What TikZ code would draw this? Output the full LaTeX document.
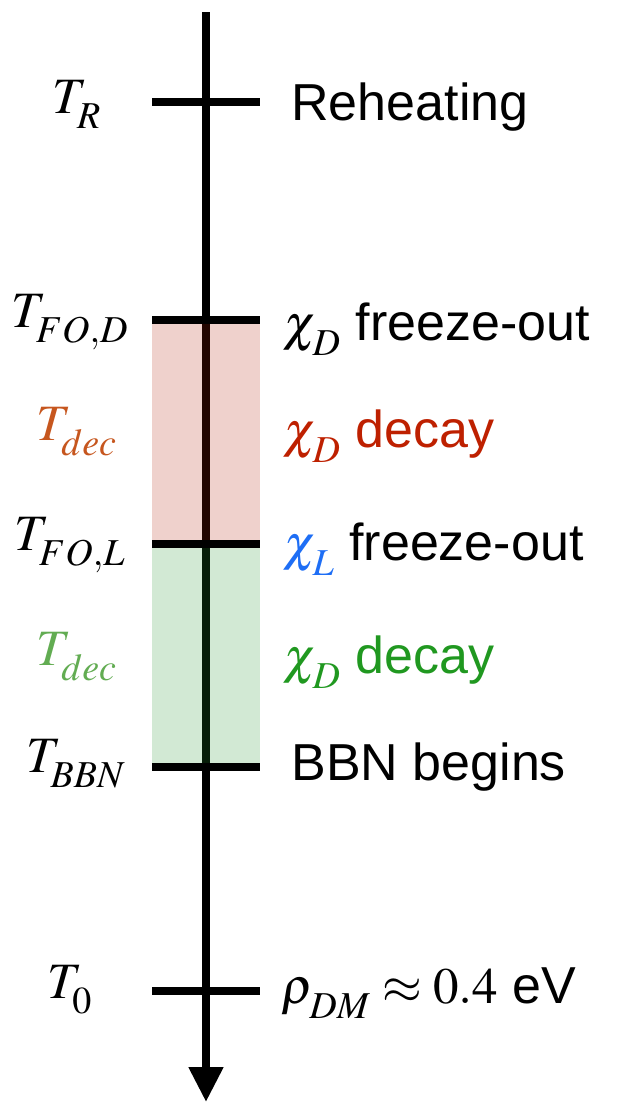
\documentclass[tikz,border=0pt]{standalone}
\usepackage{mathptmx}
\usepackage[no-math]{fontspec}
\setmainfont{Liberation Sans}
\usetikzlibrary{arrows.meta}

\DeclareMathSizes{26}{25.5}{19}{14}
% lowered subscript, as in the labels of the plot
\newcommand{\lsub}[1]{_{\raisebox{-4pt}{$\scriptstyle #1$}}}

\definecolor{decred}{RGB}{198,86,30}
\definecolor{chired}{RGB}{190,32,0}
\definecolor{chiblue}{RGB}{30,110,245}
\definecolor{decgreen}{RGB}{98,172,82}
\definecolor{chigreen}{RGB}{32,152,32}
\definecolor{bandred}{RGB}{175,25,0}
\definecolor{bandgreen}{RGB}{30,145,40}

\begin{document}
\begin{tikzpicture}[x=0.5pt,y=-0.5pt,
    font=\fontsize{26}{30}\selectfont,
    tick/.style={line width=4pt},
    temp/.style={anchor=base,inner sep=0pt},
    event/.style={anchor=base west,inner sep=0pt}]
  \useasboundingbox (0,0) rectangle (616,1103);

  % time axis
  \coordinate (top) at (206,12);
  \coordinate (bottom) at (206,1102);
  \draw[line width=4pt,-{Triangle[width=16.5pt,length=17.5pt]}] (top) -- (bottom);

  % decay windows
  \fill[bandred,fill opacity=0.2] (152,320) rectangle (260,544);
  \fill[bandgreen,fill opacity=0.2] (152,544) rectangle (260,767);

  % ticks
  \foreach \n/\y in {R/102,FOD/320,FOL/544,BBN/767,0/991}
    \draw[tick] (152,\y) coordinate (\n-l) -- (260,\y) coordinate (\n-r);

  % temperatures
  \node[temp] (tR) at (77,113) {$T\lsub{R}$};
  \node[temp] (tFOD) at (70,327) {$T\lsub{FO,D}$};
  \node[temp,text=decred] (tdecD) at (77,440) {$T\lsub{dec}$};
  \node[temp] (tFOL) at (70,550) {$T\lsub{FO,L}$};
  \node[temp,text=decgreen] (tdecL) at (77,665) {$T\lsub{dec}$};
  \node[temp] (tBBN) at (76,772) {$T\lsub{BBN}$};
  \node[temp] (t0) at (70,998) {$T\lsub{0}$};

  % events
  \node[event] (reheat) at (291,120) {Reheating};
  \node[event] (foD) at (283,340) {$\chi\lsub{D}$ freeze-out};
  \node[event,text=chired] (decD) at (283,447) {$\chi\lsub{D}$ decay};
  \node[event] (foL) at (283,560) {{\color{chiblue}$\chi\lsub{L}$} freeze-out};
  \node[event,text=chigreen] (decL) at (283,673) {$\chi\lsub{D}$ decay};
  \node[event] (bbn) at (291,780) {BBN begins};
  \node[event] (today) at (281,1003) {$\rho\lsub{DM} \approx 0.4$ eV};
\end{tikzpicture}
\end{document}
